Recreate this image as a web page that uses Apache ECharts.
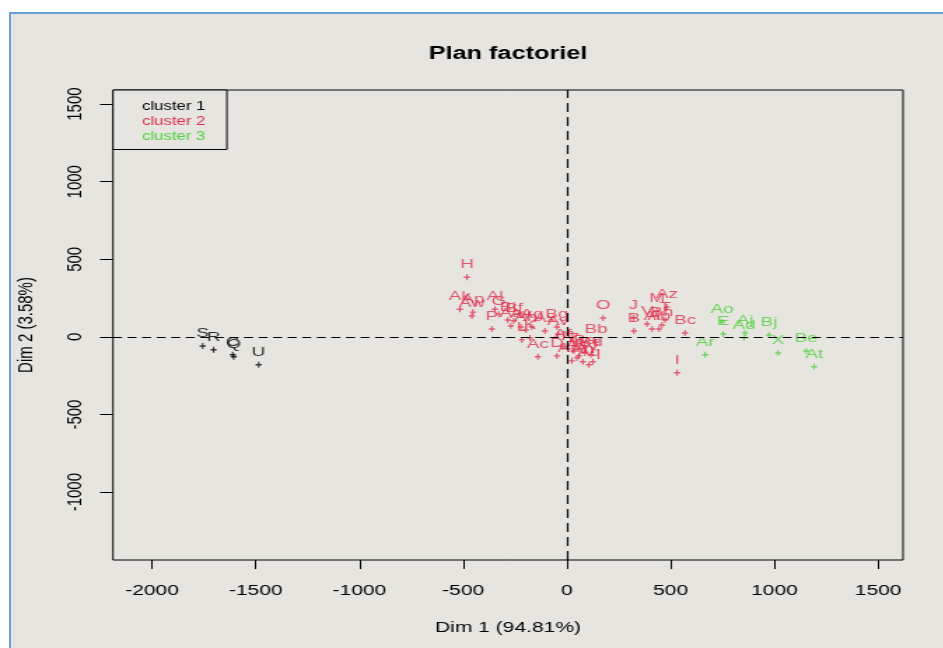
<!DOCTYPE html>
<html>
<head>
<meta charset="utf-8">
<script src="https://cdn.jsdelivr.net/npm/echarts@6/dist/echarts.min.js"></script>
<style>
  html, body { margin: 0; padding: 0; background: #ffffff; overflow: hidden; }
  #frame { position: absolute; left: 9px; top: 12px; width: 934px; height: 636px;
           background: #e6e5e0; border-left: 2px solid #6c9fd6; border-top: 2px solid #6c9fd6; }
  #chart { position: absolute; left: 0; top: 0; height: 648px; transform-origin: 0 0; }
</style>
</head>
<body>
<div id="frame"></div>
<div id="chart"></div>
<script>
// Tick labels
const dim1Ticks = [-2000, -1500, -1000, -500, 0, 500, 1000, 1500];
const dim2Ticks = [-1000, -500, 0, 500, 1000, 1500];

// Cluster 1
const c1Names = ['S', 'R', 'C', 'Q', 'U'];
const c1Dim1 = [-1756, -1703, -1611, -1606, -1486];
const c1Dim2 = [-58, -83, -115, -128, -179];

// Cluster 2
const c2Names = ['H', 'Ak', 'Ap', 'Aw', 'Al', 'G', 'P', 'Bi', 'Bf', 'Aa', 'Ag', 'Ay', 'Ah', 'Bg', 'Ax', 'Av',
  'K', 'L', 'Ac', 'D', 'Af', 'N', 'Ba', 'Bd', 'Y', 'Z', 'W', 'Am', 'An', 'As', 'Aq', 'Bb', 'O',
  'J', 'B', 'Ai', 'Ab', 'M', 'Az', 'Bh', 'V', 'T', 'Bc', 'I'];
const c2Dim1 = [-482, -516, -453, -458, -347, -328, -362, -285, -256, -270, -169, -222, -198, -48, -106, -43,
  -178, -217, -140, -48, -19, 5, 87, 116, 125, 34, 58, 24, 77, 48, 106, 140, 174,
  320, 323, 410, 444, 434, 482, 458, 386, 473, 569, 531];
const c2Dim2 = [385, 179, 160, 135, 179, 147, 51, 109, 103, 71, 64, 64, 45, 64, 38, 19,
  -6, -19, -128, -122, -64, -77, -103, -115, -160, -90, -122, -154, -160, -135, -179, -32, 122,
  122, 38, 51, 51, 167, 192, 77, 83, 109, 26, -231];

// Cluster 3
const c3Names = ['Ao', 'E', 'Aj', 'Ad', 'Bj', 'Ar', 'X', 'Be', 'At'];
const c3Dim1 = [748, 753, 859, 854, 974, 666, 1018, 1153, 1192];
const c3Dim2 = [96, 19, 26, -6, 13, -115, -103, -90, -192];

const clusterNames = ['cluster 1', 'cluster 2', 'cluster 3'];
const clusterColors = ['#000000', '#E0304F', '#4FD03C'];

// The reference picture is stretched horizontally; draw narrower and stretch.
const SX = 1.4;
const W = 943, H = 648;
const px = v => v / SX;   // final horizontal pixel -> pre-stretch pixel

const el = document.getElementById('chart');
el.style.width = (W / SX) + 'px';
el.style.transform = 'scaleX(' + SX + ')';

function build(names, xs, ys) {
  return names.map((n, i) => ({ name: n, value: [xs[i], ys[i]] }));
}
const clusterData = [
  build(c1Names, c1Dim1, c1Dim2),
  build(c2Names, c2Dim1, c2Dim2),
  build(c3Names, c3Dim1, c3Dim2)
];

const plusPath = 'path://M0,5H10M5,0V10';
const FONT = 'Liberation Sans, Arial, sans-serif';

const series = clusterData.map((d, k) => ({
  name: clusterNames[k],
  type: 'scatter',
  data: d,
  symbol: plusPath,
  symbolSize: [px(6), 6],
  itemStyle: { color: clusterColors[k], borderColor: clusterColors[k], borderWidth: 1.2 },
  label: {
    show: true, position: 'top', distance: 2, formatter: '{b}',
    color: clusterColors[k], fontSize: 13.5, fontFamily: FONT
  },
  emphasis: { disabled: true },
  z: 3
}));

series.push({
  type: 'scatter', data: [], silent: true,
  markLine: {
    silent: true, symbol: 'none', label: { show: false },
    lineStyle: { color: '#000', width: 1.2 },
    data: [
      { xAxis: 0, lineStyle: { type: [9, 5], width: 1.2 } },
      { yAxis: 0, lineStyle: { type: [6.4, 4], width: 1.2 } }
    ]
  }
});

const chart = echarts.init(el, null, { renderer: 'canvas' });
chart.setOption({
  backgroundColor: 'transparent',
  animation: false,
  title: {
    text: 'Plan factoriel', left: px(508) - 56.5 - 5, top: 40,
    textStyle: { fontFamily: FONT, fontWeight: 'bold', fontSize: 18, color: '#000' }
  },
  legend: {
    left: px(113), top: 90, orient: 'vertical',
    icon: 'none', itemWidth: 0, itemHeight: 15, itemGap: 1.5,
    padding: [9, 15.3, 7, 15.7],
    borderColor: '#000', borderWidth: 1, backgroundColor: '#e6e5e0',
    selectedMode: false,
    textStyle: { fontSize: 12, fontFamily: FONT },
    data: clusterNames.map((n, k) => ({ name: n, textStyle: { color: clusterColors[k] } }))
  },
  grid: {
    left: px(113), top: 90, width: px(790), height: 470,
    show: true, borderColor: '#000', borderWidth: 1, backgroundColor: 'transparent'
  },
  xAxis: {
    type: 'value', min: -2188, max: 1620,
    name: 'Dim 1 (94.81%)', nameLocation: 'middle', nameGap: 60,
    nameTextStyle: { fontFamily: FONT, fontSize: 15, color: '#000' },
    axisLine: { show: false, onZero: false },
    axisTick: { show: true, length: 9, customValues: dim1Ticks, lineStyle: { color: '#000' } },
    axisLabel: { customValues: dim1Ticks, margin: 23, fontFamily: FONT, fontSize: 15, color: '#000',
      formatter: v => String(v) },
    splitLine: { show: false }
  },
  yAxis: {
    type: 'value', min: -1437, max: 1591,
    name: 'Dim 2 (3.58%)', nameLocation: 'middle', nameGap: 54,
    nameTextStyle: { fontFamily: FONT, fontSize: 15, color: '#000' },
    axisLine: { show: false, onZero: false },
    axisTick: { show: true, length: px(13), customValues: dim2Ticks, lineStyle: { color: '#000' } },
    axisLabel: { customValues: dim2Ticks, rotate: 90, margin: 19.5, fontFamily: FONT, fontSize: 15, color: '#000',
      formatter: v => String(v) },
    splitLine: { show: false }
  },
  series: series
});
</script>
</body>
</html>
